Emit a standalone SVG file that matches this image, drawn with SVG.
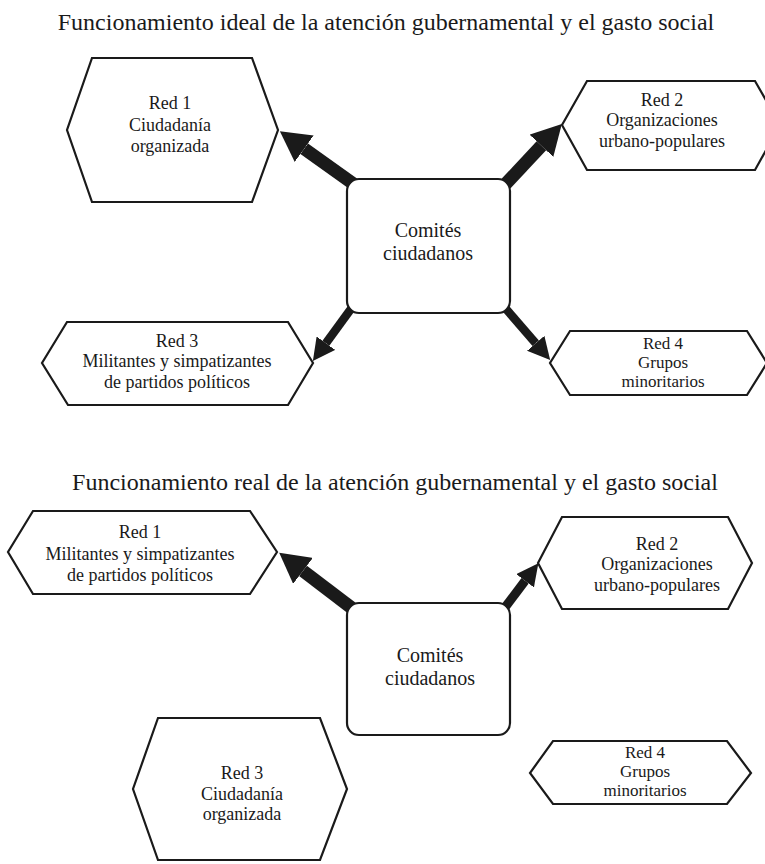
<svg xmlns="http://www.w3.org/2000/svg" width="765" height="864" viewBox="0 0 765 864">
<style>
.title{font-family:"Liberation Serif","Times New Roman",serif;font-size:24px;fill:#1a1a1a;text-anchor:middle}
.lbl{font-family:"Liberation Serif","Times New Roman",serif;font-size:18px;fill:#1a1a1a;text-anchor:middle}
.sm{font-size:17px}
.box{font-family:"Liberation Serif","Times New Roman",serif;font-size:20px;fill:#1a1a1a;text-anchor:middle}
.hex{fill:#fff;stroke:#1a1a1a;stroke-width:2.2;stroke-linejoin:miter}
.rect{fill:#fff;stroke:#1a1a1a;stroke-width:2.2}
.arr{stroke:#1a1a1a;fill:none}
.thick{stroke-width:13;marker-end:url(#headThick)}
.thin{stroke-width:8.5;marker-end:url(#headThin)}
.mid{stroke-width:9;marker-end:url(#headMid)}
</style>
<defs>
<marker id="headThick" viewBox="0 0 10 10" refX="0" refY="5" markerUnits="strokeWidth" markerWidth="2.3" markerHeight="2.5" preserveAspectRatio="none" orient="auto"><path d="M0,0 L10,5 L0,10 z" fill="#1a1a1a"/></marker>
<marker id="headThin" viewBox="0 0 10 10" refX="0" refY="5" markerUnits="strokeWidth" markerWidth="2.6" markerHeight="2.7" preserveAspectRatio="none" orient="auto"><path d="M0,0 L10,5 L0,10 z" fill="#1a1a1a"/></marker>
<marker id="headMid" viewBox="0 0 10 10" refX="0" refY="5" markerUnits="strokeWidth" markerWidth="2.45" markerHeight="2.45" preserveAspectRatio="none" orient="auto"><path d="M0,0 L10,5 L0,10 z" fill="#1a1a1a"/></marker>
</defs>
<rect width="765" height="864" fill="#fff"/>
<text class="title" x="386" y="30">Funcionamiento ideal de la atención gubernamental y el gasto social</text>
<text class="title" x="395" y="490">Funcionamiento real de la atención gubernamental y el gasto social</text>
<g id="connectors">
<line class="arr thick" x1="362" y1="190" x2="304.2" y2="148.7"/>
<line class="arr thick" x1="500" y1="190" x2="541.4" y2="145.8"/>
<line class="arr thin" x1="356" y1="302" x2="325.9" y2="343.2"/>
<line class="arr thin" x1="500" y1="302" x2="535.7" y2="343.3"/>
<line class="arr thick" x1="357" y1="612" x2="303" y2="570.9"/>
<line class="arr mid" x1="500" y1="614" x2="525.1" y2="580.8"/>
</g>
<g id="top-red1">
<polygon class="hex" points="92,58 252,58 278,130 252,202 92,202 67,130"/>
<text class="lbl" x="170" y="109">Red 1</text>
<text class="lbl" x="170" y="131">Ciudadanía</text>
<text class="lbl" x="170" y="152">organizada</text>
</g>
<g id="top-red2">
<polygon class="hex" points="587,81 755,81 780,125 755,170 587,170 562,125"/>
<text class="lbl" x="662" y="106">Red 2</text>
<text class="lbl" x="662" y="126">Organizaciones</text>
<text class="lbl" x="662" y="147">urbano-populares</text>
</g>
<g id="top-comites">
<rect class="rect" x="347" y="179" width="163" height="134" rx="12"/>
<text class="box" x="428" y="237">Comités</text>
<text class="box" x="428" y="260">ciudadanos</text>
</g>
<g id="top-red3">
<polygon class="hex" points="67,322 288,322 313,363 288,405 68,405 42,363"/>
<text class="lbl" x="177" y="347">Red 3</text>
<text class="lbl" x="177" y="367">Militantes y simpatizantes</text>
<text class="lbl" x="177" y="388">de partidos políticos</text>
</g>
<g id="top-red4">
<polygon class="hex" points="570,331 747,331 767,363 747,395 570,395 550,363"/>
<text class="lbl sm" x="663" y="349">Red 4</text>
<text class="lbl sm" x="663" y="368">Grupos</text>
<text class="lbl sm" x="663" y="387">minoritarios</text>
</g>
<g id="bottom-red1">
<polygon class="hex" points="33,511 250,511 277,552 250,594 33,594 8,552"/>
<text class="lbl" x="140" y="538">Red 1</text>
<text class="lbl" x="140" y="560">Militantes y simpatizantes</text>
<text class="lbl" x="140" y="581">de partidos políticos</text>
</g>
<g id="bottom-red2">
<polygon class="hex" points="562,517 728,517 752,563 728,609 562,609 538,563"/>
<text class="lbl" x="657" y="550">Red 2</text>
<text class="lbl" x="657" y="570">Organizaciones</text>
<text class="lbl" x="657" y="591">urbano-populares</text>
</g>
<g id="bottom-comites">
<rect class="rect" x="347" y="603" width="163" height="132" rx="12"/>
<text class="box" x="430" y="662">Comités</text>
<text class="box" x="430" y="685">ciudadanos</text>
</g>
<g id="bottom-red3">
<polygon class="hex" points="158,718 320,718 347,789 320,860 158,860 133,789"/>
<text class="lbl" x="242" y="779">Red 3</text>
<text class="lbl" x="242" y="800">Ciudadanía</text>
<text class="lbl" x="242" y="820">organizada</text>
</g>
<g id="bottom-red4">
<polygon class="hex" points="553,741 727,741 751,773 727,804 553,804 530,773"/>
<text class="lbl sm" x="645" y="758">Red 4</text>
<text class="lbl sm" x="645" y="777">Grupos</text>
<text class="lbl sm" x="645" y="796">minoritarios</text>
</g>
</svg>
